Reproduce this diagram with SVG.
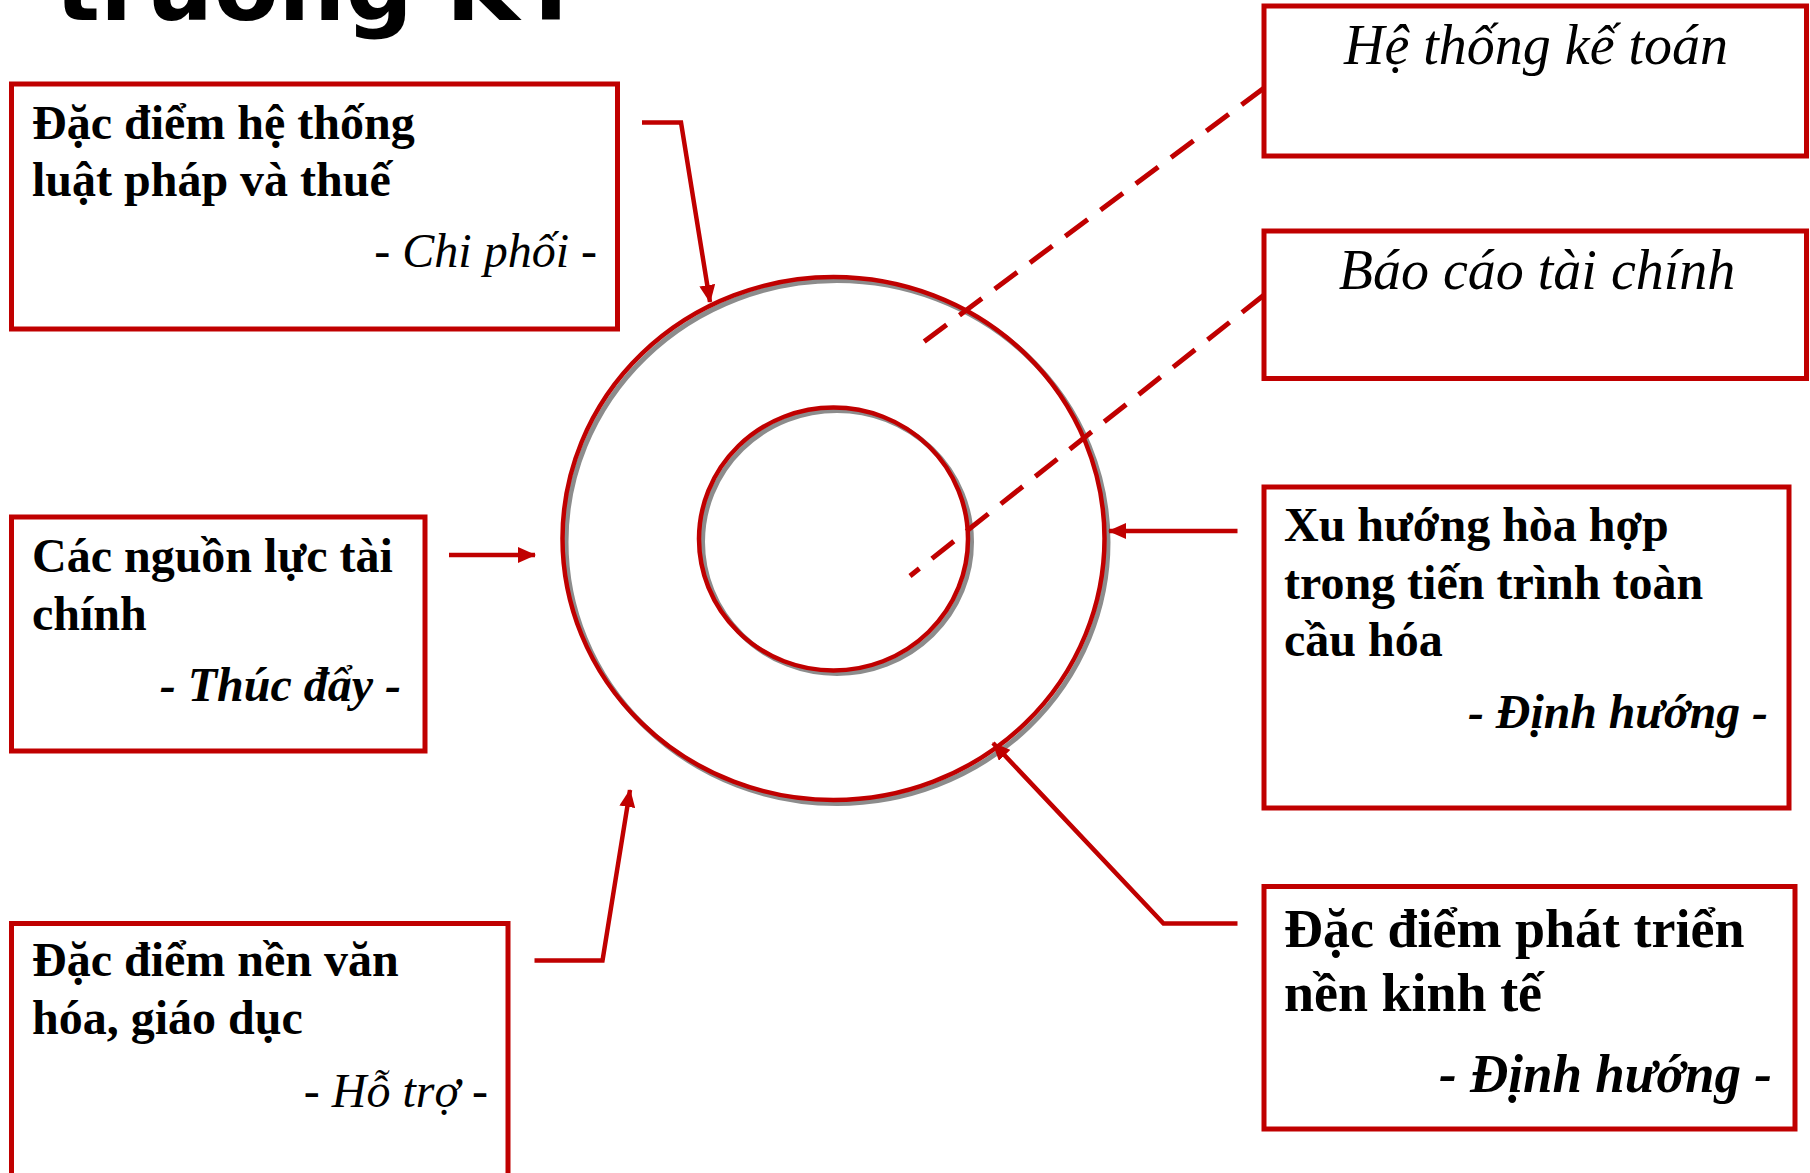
<svg xmlns="http://www.w3.org/2000/svg" width="1810" height="1173" viewBox="0 0 1810 1173">
<defs>
<style>
.box{fill:#fff;stroke:#C00000;stroke-width:5}
.b{font-family:"Liberation Serif","Times New Roman",serif;font-weight:bold;fill:#000}
.i{font-family:"Liberation Serif","Times New Roman",serif;font-style:italic;fill:#000}
.bi{font-family:"Liberation Serif","Times New Roman",serif;font-style:italic;font-weight:bold;fill:#000}
.con{fill:none;stroke:#C00000;stroke-width:4.5}
.dash{fill:none;stroke:#C00000;stroke-width:5;stroke-dasharray:28 16}
.ring{fill:none;stroke:#C00000;stroke-width:4.5}
.shadow{fill:none;stroke:#8c8c8c;stroke-width:5}
</style>
<marker id="ah" markerUnits="userSpaceOnUse" markerWidth="18" markerHeight="16" refX="17" refY="8" orient="auto">
<path d="M0,0 L18,8 L0,16 z" fill="#C00000"/>
</marker>
</defs>
<rect width="1810" height="1173" fill="#fff"/>
<text x="55" y="20" font-family="'DejaVu Sans',Verdana,sans-serif" font-weight="bold" font-size="93" textLength="528" lengthAdjust="spacingAndGlyphs">trường KT</text>

<g id="rings">
<ellipse class="shadow" cx="837" cy="542" rx="271" ry="261.5"/>
<ellipse class="ring" cx="833.5" cy="538.5" rx="271" ry="261.5"/>
<ellipse class="shadow" cx="837" cy="542" rx="134.5" ry="131.5"/>
<ellipse class="ring" cx="833.5" cy="539" rx="134.5" ry="131.5"/>
</g>

<g id="n1">
<rect class="box" x="11.5" y="84" width="606" height="245"/>
<text class="b" x="32" y="139" font-size="48">Đặc điểm hệ thống</text>
<text class="b" x="32" y="196" font-size="48">luật pháp và thuế</text>
<text class="i" x="597" y="267" font-size="48" text-anchor="end">- Chi phối -</text>
</g>
<g id="n2">
<rect class="box" x="11.5" y="517" width="413.5" height="234"/>
<text class="b" x="32" y="572" font-size="48">Các nguồn lực tài</text>
<text class="b" x="32" y="630" font-size="48">chính</text>
<text class="bi" x="401" y="701" font-size="48" text-anchor="end">- Thúc đẩy -</text>
</g>
<g id="n3">
<rect class="box" x="11.5" y="923.5" width="496.5" height="270"/>
<text class="b" x="32" y="976" font-size="48">Đặc điểm nền văn</text>
<text class="b" x="32" y="1034" font-size="48">hóa, giáo dục</text>
<text class="i" x="488" y="1107" font-size="48" text-anchor="end">- Hỗ trợ -</text>
</g>
<g id="n4">
<rect class="box" x="1264" y="6" width="542.5" height="150"/>
<text class="i" x="1536" y="64" font-size="56" text-anchor="middle">Hệ thống kế toán</text>
</g>
<g id="n5">
<rect class="box" x="1264" y="231" width="542.5" height="147.5"/>
<text class="i" x="1537" y="289" font-size="56" text-anchor="middle">Báo cáo tài chính</text>
</g>
<g id="n6">
<rect class="box" x="1264" y="487" width="525" height="321"/>
<text class="b" x="1284" y="541" font-size="48">Xu hướng hòa hợp</text>
<text class="b" x="1284" y="599" font-size="48">trong tiến trình toàn</text>
<text class="b" x="1284" y="656" font-size="48">cầu hóa</text>
<text class="bi" x="1768" y="728" font-size="48" text-anchor="end" textLength="300" lengthAdjust="spacingAndGlyphs">- Định hướng -</text>
</g>
<g id="n7">
<rect class="box" x="1264" y="886.5" width="531" height="242.5"/>
<text class="b" x="1284" y="947" font-size="54">Đặc điểm phát triển</text>
<text class="b" x="1284" y="1011" font-size="54">nền kinh tế</text>
<text class="bi" x="1772" y="1092" font-size="54" text-anchor="end" textLength="333" lengthAdjust="spacingAndGlyphs">- Định hướng -</text>
</g>

<g id="connectors">
<polyline class="con" points="642,122.5 681,122.5 710,302" marker-end="url(#ah)"/>
<line class="con" x1="449" y1="555" x2="535" y2="555" marker-end="url(#ah)"/>
<polyline class="con" points="534.5,960.5 602.5,960.5 630,790" marker-end="url(#ah)"/>
<line class="con" x1="1237.5" y1="531" x2="1109" y2="531" marker-end="url(#ah)"/>
<polyline class="con" points="1237.5,923.5 1163.5,923.5 993,743" marker-end="url(#ah)"/>
<line class="dash" x1="1264" y1="88" x2="921" y2="344"/>
<line class="dash" x1="1264" y1="295" x2="910" y2="576"/>
</g>
</svg>
